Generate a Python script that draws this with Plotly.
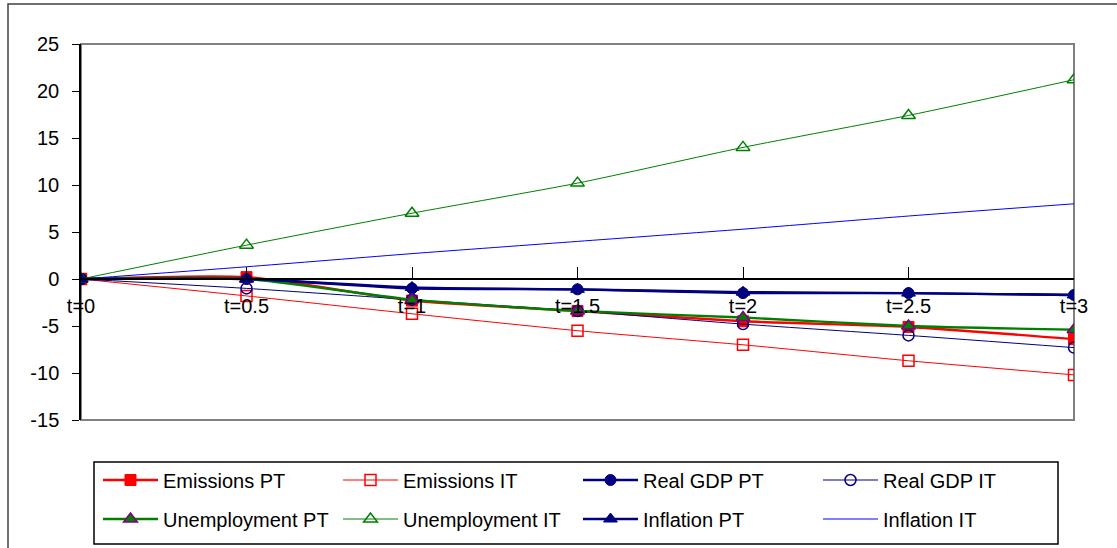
import plotly.graph_objects as go

categories = ["t=0", "t=0.5", "t=1", "t=1.5", "t=2", "t=2.5", "t=3"]

emissions_pt = [0, 0.2, -2.3, -3.4, -4.5, -5.1, -6.4]
emissions_it = [0, -1.8, -3.7, -5.5, -7.0, -8.7, -10.2]
real_gdp_pt = [0, 0.0, -1.0, -1.1, -1.5, -1.5, -1.7]
real_gdp_it = [0, -1.0, -2.2, -3.4, -4.8, -6.0, -7.3]
unemployment_pt = [0, 0.0, -2.2, -3.4, -4.1, -5.0, -5.4]
unemployment_it = [0, 3.6, 7.0, 10.2, 14.0, 17.4, 21.2]
inflation_pt = [0, 0.0, -0.9, -1.1, -1.4, -1.5, -1.7]
inflation_it = [0, 1.3, 2.7, 4.0, 5.3, 6.7, 8.0]

y_tick_vals = [-15, -10, -5, 0, 5, 10, 15, 20, 25]
y_tick_text = ["-15", "-10", "-5", "0", "5", "10", "15", "20", "25"]

RED = "#FF0000"
GREEN = "#008000"
NAVY = "#000080"
BLUE = "#0000FF"
PURPLE = "#800080"

series = [
    ("Emissions PT", emissions_pt, dict(color=RED, width=2.4),
     dict(symbol="square", size=11, color=RED, line=dict(color=RED, width=1)), "legend"),
    ("Emissions IT", emissions_it, dict(color=RED, width=1),
     dict(symbol="square-open", size=11, color=RED, line=dict(color=RED, width=1.5)), "legend"),
    ("Real GDP PT", real_gdp_pt, dict(color=NAVY, width=2.4),
     dict(symbol="circle", size=11, color=NAVY, line=dict(color=NAVY, width=1)), "legend"),
    ("Real GDP IT", real_gdp_it, dict(color=NAVY, width=1),
     dict(symbol="circle-open", size=11, color=NAVY, line=dict(color=NAVY, width=1.5)), "legend"),
    ("Unemployment PT", unemployment_pt, dict(color=GREEN, width=2.4),
     dict(symbol="triangle-up", size=12, color=GREEN, line=dict(color=PURPLE, width=1.5)), "legend2"),
    ("Unemployment IT", unemployment_it, dict(color=GREEN, width=1),
     dict(symbol="triangle-up-open", size=12, color=GREEN, line=dict(color=GREEN, width=1.5)), "legend2"),
    ("Inflation PT", inflation_pt, dict(color=NAVY, width=2.4),
     dict(symbol="triangle-up", size=12, color=NAVY, line=dict(color=NAVY, width=1)), "legend2"),
    ("Inflation IT", inflation_it, dict(color=BLUE, width=1), None, "legend2"),
]

fig = go.Figure()
for name, vals, line, marker, leg in series:
    line = dict(line, shape="spline", smoothing=0.6)
    if marker is None:
        fig.add_trace(go.Scatter(x=categories, y=vals, name=name, mode="lines",
                                 line=line, legend=leg))
    else:
        fig.add_trace(go.Scatter(x=categories, y=vals, name=name, mode="lines+markers",
                                 line=line, marker=marker, legend=leg))

W, H = 1117, 548
L, R, T, B = 81, 1074, 44, 420
pw, ph = R - L, B - T


def px_x(p):
    return (p - L) / pw


def px_y(p):
    return (B - p) / ph


FONT = "Liberation Sans, Arial, sans-serif"
legend_common = dict(
    orientation="h", entrywidth=170, entrywidthmode="pixels", itemwidth=55,
    font=dict(family=FONT, size=20, color="black"), bgcolor="rgba(0,0,0,0)",
    borderwidth=0, xanchor="left", yanchor="middle", itemclick=False,
)

fig.update_layout(
    width=W, height=H,
    margin=dict(l=L, r=W - R, t=T, b=H - B, pad=0, autoexpand=False),
    paper_bgcolor="white", plot_bgcolor="white",
    font=dict(family=FONT, size=19, color="black"),
    showlegend=True,
    legend=dict(legend_common, x=px_x(98), y=px_y(480)),
    legend2=dict(legend_common, x=px_x(98), y=px_y(519)),
    xaxis=dict(
        type="category", range=[0, 6], anchor="free", position=15 / 40,
        showline=True, linecolor="black", linewidth=1.5,
        ticks="inside", ticklen=11, tickcolor="black", tickwidth=1,
        showgrid=False, zeroline=False, ticklabelstandoff=9,
        tickfont=dict(family=FONT, size=20, color="black"),
    ),
    yaxis=dict(
        range=[-15, 25], tickmode="array", tickvals=y_tick_vals, ticktext=y_tick_text,
        showline=True, linecolor="black", linewidth=1.5,
        ticks="outside", ticklen=7, tickcolor="black", showgrid=False,
        zeroline=False, ticklabelstandoff=9,
        tickfont=dict(family=FONT, size=20, color="black"),
    ),
    shapes=[
        dict(type="rect", xref="paper", yref="paper", x0=0, x1=1, y0=0, y1=1,
             line=dict(color="#808080", width=2), layer="below"),
        dict(type="rect", xref="paper", yref="paper",
             x0=px_x(94), x1=px_x(1058), y0=px_y(544), y1=px_y(462),
             line=dict(color="black", width=1.5), layer="below"),
        dict(type="rect", xref="paper", yref="paper",
             x0=px_x(8), x1=px_x(1140), y0=px_y(580), y1=px_y(4),
             line=dict(color="#404040", width=1.5), layer="below"),
    ],
)

fig.write_html("out.html", config={"displayModeBar": False},
               post_script="document.body.style.margin='0px';")
